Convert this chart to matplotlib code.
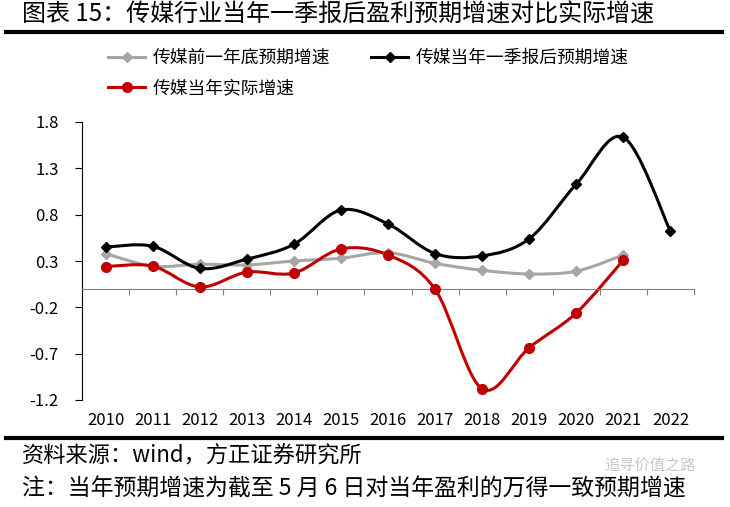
import matplotlib
matplotlib.use('Agg')
import matplotlib.pyplot as plt
from matplotlib.path import Path
from matplotlib.patches import PathPatch
from matplotlib.lines import Line2D
import matplotlib.transforms as mtransforms

plt.rcParams['font.family'] = ['Noto Sans CJK SC', 'DejaVu Sans']

# 数据
years = ['2010', '2011', '2012', '2013', '2014', '2015', '2016',
         '2017', '2018', '2019', '2020', '2021', '2022']
prev_year_forecast = [0.38, 0.245, 0.265, 0.257, 0.30, 0.33, 0.39,
                      0.275, 0.20, 0.16, 0.19, 0.365]
q1_forecast = [0.45, 0.46, 0.22, 0.32, 0.48, 0.85, 0.70,
               0.38, 0.355, 0.54, 1.13, 1.635, 0.62]
actual_growth = [0.24, 0.245, 0.02, 0.18, 0.17, 0.43, 0.365,
                 -0.005, -1.08, -0.635, -0.26, 0.31]

labels = ['传媒前一年底预期增速', '传媒当年一季报后预期增速', '传媒当年实际增速']
yticks = [-1.2, -0.7, -0.2, 0.3, 0.8, 1.3, 1.8]

title = '图表 15：传媒行业当年一季报后盈利预期增速对比实际增速'
source = '资料来源：wind，方正证券研究所'
note = '注：当年预期增速为截至 5 月 6 日对当年盈利的万得一致预期增速'


def smooth_patch(xs, ys, color, lw):
    """Excel 风格的平滑线（三次贝塞尔）"""
    pts = list(zip(xs, ys))
    n = len(pts)
    verts = [pts[0]]
    codes = [Path.MOVETO]
    for i in range(n - 1):
        p0 = pts[i - 1] if i > 0 else pts[i]
        p1 = pts[i]
        p2 = pts[i + 1]
        p3 = pts[i + 2] if i + 2 < n else p2
        c1 = (p1[0] + (p2[0] - p0[0]) / 6, p1[1] + (p2[1] - p0[1]) / 6)
        c2 = (p2[0] - (p3[0] - p1[0]) / 6, p2[1] - (p3[1] - p1[1]) / 6)
        verts += [c1, c2, p2]
        codes += [Path.CURVE4] * 3
    return PathPatch(Path(verts, codes), facecolor='none', edgecolor=color,
                     lw=lw, capstyle='round', joinstyle='round')


fig = plt.figure(figsize=(7.3, 5.07), dpi=100)
ax = fig.add_axes([82 / 730, 1 - 400 / 507, 612 / 730, 278 / 507])

series = [
    (prev_year_forecast, '#A6A6A6', 'D', 5.2, 2.2),
    (q1_forecast, '#000000', 'D', 5.5, 2.2),
    (actual_growth, '#C00000', 'o', 7, 2.2),
]
handles = []
for (vals, color, marker, ms, lw), lab in zip(series, labels):
    xs = list(range(len(vals)))
    ax.add_patch(smooth_patch(xs, vals, color, lw))
    ax.plot(xs, vals, linestyle='none', marker=marker, markersize=ms,
            color=color, zorder=3)
    handles.append(Line2D([], [], color=color, lw=lw, marker=marker,
                          markersize=ms, label=lab))

ax.set_xlim(-0.5, len(years) - 0.5)
ax.set_ylim(-1.2, 1.8)

ax.spines['top'].set_visible(False)
ax.spines['right'].set_visible(False)
ax.spines['bottom'].set_position(('data', 0))
ax.spines['bottom'].set_color('#808080')
ax.spines['left'].set_color('#000000')

ax.set_xticks([i + 0.5 for i in range(len(years))])
ax.tick_params(axis='x', length=4, color='#808080', labelbottom=False)
ax.set_yticks(yticks)
ax.set_yticklabels([f'{v:.1f}' for v in yticks])
ax.tick_params(axis='y', length=5, pad=12, labelsize=12)

# 年份标签放在图底部
trans = mtransforms.blended_transform_factory(ax.transData, ax.transAxes)
for i, yr in enumerate(years):
    ax.text(i, -0.072, yr, transform=trans, ha='center', va='center',
            fontsize=12)

# 图例
fig.legend(handles=[handles[0], handles[2], handles[1]],
           labels=[labels[0], labels[2], labels[1]],
           loc='upper left', bbox_to_anchor=(108 / 730, 1 - 49 / 507),
           ncol=2, frameon=False, fontsize=12.8, handlelength=2.1,
           handletextpad=0.4, columnspacing=2.3, labelspacing=0.68,
           borderpad=0, borderaxespad=0)

# 标题和分隔线
fig.text(22 / 730, 1 - 15 / 507, title, fontsize=17.3, va='center', ha='left')
fig.add_artist(Line2D([6 / 730, 722 / 730], [1 - 32 / 507, 1 - 32 / 507],
                      transform=fig.transFigure, color='black', lw=3))
fig.add_artist(Line2D([6 / 730, 722 / 730], [1 - 438 / 507, 1 - 438 / 507],
                      transform=fig.transFigure, color='black', lw=3))

fig.text(22 / 730, 1 - 456 / 507, source, fontsize=16, va='center',
         ha='left')
fig.text(22 / 730, 1 - 489 / 507, note, fontsize=16.5, va='center', ha='left')
# 水印
fig.text(604 / 730, 1 - 465 / 507, '追寻价值之路', fontsize=11,
         va='center', ha='left', color='#BBBBBB', alpha=0.8, zorder=5)

fig.savefig('out.png', dpi=100, facecolor='white')
